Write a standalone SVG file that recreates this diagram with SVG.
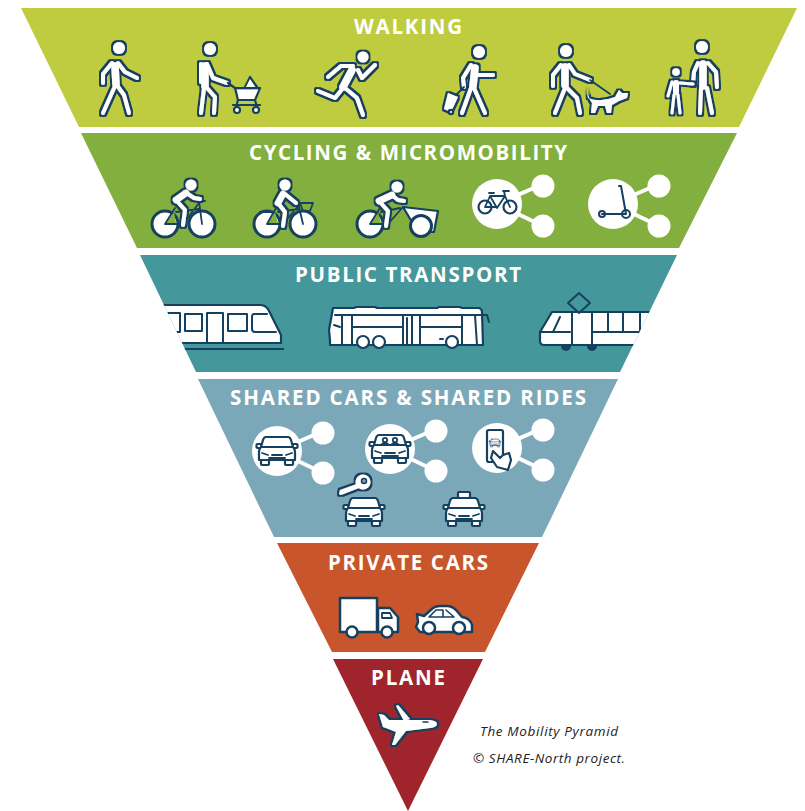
<svg xmlns="http://www.w3.org/2000/svg" width="805" height="811" viewBox="0 0 805 811">
<style>
.title{font-family:"Open Sans","Liberation Sans",sans-serif;font-weight:700;font-size:20.5px;fill:#fff;text-anchor:middle}
.cap{font-family:"Open Sans","Liberation Sans",sans-serif;font-style:italic;font-size:13.5px;fill:#222}
.fig{filter:url(#ol)}
.l{fill:none;stroke:#fff;stroke-width:4;stroke-linecap:round;stroke-linejoin:round}
.t{fill:none;stroke:#fff;stroke-width:7.5;stroke-linecap:round;stroke-linejoin:round}
.w{fill:#fff}
.n{fill:none;stroke:#16405f;stroke-width:1.8;stroke-linecap:round;stroke-linejoin:round}
.nw{fill:#fff;stroke:#16405f;stroke-width:2.2;stroke-linecap:round;stroke-linejoin:round}
.wh{fill:#fff;stroke:#16405f;stroke-width:3}
.nf{fill:#16405f}
.sh{stroke:#fff;stroke-width:4;fill:#fff}
</style>
<defs>
<filter id="ol" filterUnits="userSpaceOnUse" x="0" y="0" width="805" height="811">
<feMorphology in="SourceAlpha" operator="dilate" radius="1.5" result="d"/>
<feFlood flood-color="#16405f"/>
<feComposite in2="d" operator="in"/>
<feMerge><feMergeNode/><feMergeNode in="SourceGraphic"/></feMerge>
</filter>
<clipPath id="cp"><polygon points="140,255 677,255 620,372 196,372"/></clipPath>
<g id="share">
<line x1="0" y1="0" x2="46" y2="-20" class="sh"/><line x1="0" y1="0" x2="46" y2="22" class="sh"/>
<circle r="25" class="w"/><circle cx="46" cy="-18" r="11.5" class="w"/><circle cx="46" cy="22" r="11.5" class="w"/>
</g>
<g id="car">
<rect x="-16" y="7" width="8" height="7" rx="1" class="nw"/><rect x="8" y="7" width="8" height="7" rx="1" class="nw"/>
<rect x="-20.5" y="-7" width="5" height="4" rx="1" class="nw"/><rect x="15.5" y="-7" width="5" height="4" rx="1" class="nw"/>
<path class="nw" d="M-11,-14H11Q13,-14 14,-11L16,-4Q18,-2 18,1V9H-18V1Q-18,-2 -16,-4L-14,-11Q-13,-14 -11,-14Z"/>
<path class="n" d="M-16,-4H16M-15,2L-9,4M15,2L9,4M-8,7H8M-5,4H5"/>
</g>
</defs>
<rect width="805" height="811" fill="#fff"/>

<g id="walking">
<polygon points="21,8 797,8 739,127 79,127" fill="#bfcc40"/>
<text class="title" x="408" y="34" textLength="108">WALKING</text>
<g class="fig"><circle class="w" cx="119" cy="48" r="6"/><path class="t" d="M115,66L116,84"/><path class="l" d="M118,63L125,72L137,78M112,63L103,74V83M115,86L103,113M116,84L124,95L129,113"/></g>
<g class="fig"><circle class="w" cx="210" cy="49" r="6"/><path class="t" d="M205,66V86"/><path class="l" d="M207,64L213,78L227,83M201,64V82M204,88L201,113M207,88L215,97L214,113"/></g>
<g id="stroller"><path class="n" d="M228,83L235,88L238,100H255L260,88H235M245,87L250,77L257,87M238,100L236,107M255,100L257,107M233,105H260" fill="#fff" style="stroke-width:2.2"/><path class="w" d="M237,90H258L254,99H239Z"/><path class="w" d="M246,87L250,79L255,87Z"/><circle cx="237" cy="110" r="3" class="nw"/><circle cx="256" cy="110" r="3" class="nw"/></g>
<g class="fig"><circle class="w" cx="363" cy="57" r="5.5"/><path class="t" d="M352,70L343,87"/><path class="l" d="M353,66H341L328,77M358,70L362,78L375,65M343,88L335,98L318,91M345,88L357,98L363,115"/></g>
<g class="fig"><circle class="w" cx="479" cy="52" r="6"/><path class="t" d="M475,68L473,86"/><path class="l" d="M477,75H493M471,65L463,78L464,87M471,88L462,113M474,88L485,113"/></g>
<g class="fig"><path class="w" d="M448,93L458,97L451,112L444,109Z"/></g>
<line class="n" x1="464" y1="87" x2="456" y2="95"/>
<circle cx="451" cy="112" r="2.2" class="nw"/>
<g class="fig"><circle class="w" cx="566" cy="51" r="6"/><path class="t" d="M565,67V85"/><path class="l" d="M569,65L575,74L590,80M561,65L553,75V86M565,88L555,113M567,88L577,98L580,113"/></g>
<path class="n" d="M590,80L610,94"/>
<g class="fig"><path class="w" d="M588,98Q600,103 615,97L619,90L622,93H628L627,98L619,101L612,105L611,113H607L605,106H598L595,113H591L592,103Q588,98 587,88Z"/></g>
<g class="fig"><circle class="w" cx="702" cy="47" r="6"/><path class="t" d="M703,64V86"/><path class="l" d="M698,63L694,72L693,84M708,63L716,72L717,87M701,88L700,113M707,88L712,113"/></g>
<g class="fig"><circle class="w" cx="676" cy="72" r="3.8"/><path class="l" d="M676,83V92" style="stroke-width:6"/><path class="l" style="stroke-width:3" d="M680,83L693,84M672,82L668,96M674,95L672,113M678,95L680,113"/></g>
</g>

<g id="cycling">
<polygon points="81,133 737,133 679,248 137,248" fill="#82af3e"/>
<text class="title" x="408" y="160" textLength="318">CYCLING &amp; MICROMOBILITY</text>
<g id="bike1">
<circle cx="165" cy="224" r="13" class="wh"/><circle cx="202" cy="224" r="13" class="wh"/>
<path d="M166,223L174,212L176,223Z" fill="#82af3e"/>
<path class="n" d="M165,224L175,208M165,224H183L199,203M176,212L199,209M202,224L199,201L205,201"/>
<g class="fig"><circle class="w" cx="191" cy="185" r="5.5"/><path class="l" style="stroke-width:6.5" d="M186,193L176,200"/><path class="l" d="M176,200L185,210L183,225M188,194L194,198L200,199"/></g>
</g>
<g id="bike2">
<circle cx="267" cy="224" r="13" class="wh"/><circle cx="303" cy="224" r="13" class="wh"/>
<path d="M268,223L275,212L278,223Z" fill="#82af3e"/>
<path class="n" d="M267,224L276,208M267,224H283L299,205M278,212L299,209M303,224L298,203M260,212H273"/>
<path class="n" d="M300,203H313L310,211H303Z"/>
<g class="fig"><circle class="w" cx="285" cy="185" r="5.5"/><path class="l" style="stroke-width:6.5" d="M283,194L278,203"/><path class="l" d="M278,203L285,212L283,226M285,194L296,203"/></g>
</g>
<g id="bike3">
<circle cx="370" cy="224" r="13" class="wh"/>
<path d="M371,223L378,212L381,223Z" fill="#82af3e"/>
<path class="nw" d="M403,207L438,211L434,232H418Z"/>
<circle cx="421" cy="226" r="10.5" class="wh"/>
<path class="n" d="M370,224L380,208M370,224H388L403,207M381,212L400,208"/>
<g class="fig"><circle class="w" cx="397" cy="187" r="5.5"/><path class="l" style="stroke-width:6.5" d="M392,195L379,201"/><path class="l" d="M379,201L388,211L386,226M393,196L398,200L404,201"/></g>
</g>
<g id="bikeshare"><use href="#share" x="497" y="204"/>
<circle cx="485" cy="207" r="6.5" fill="none" stroke="#16405f" stroke-width="2.2"/><circle cx="510" cy="207" r="6.5" fill="none" stroke="#16405f" stroke-width="2.2"/>
<path class="n" d="M485,207L490,196H505L510,207M490,196L497,208L505,196M485,207H497M489,193H494M504,191L505,196M503,191H509"/></g>
<g id="scootershare"><use href="#share" x="613" y="204"/>
<circle cx="602" cy="214" r="3" fill="none" stroke="#16405f" stroke-width="2"/><circle cx="626" cy="214" r="4" fill="none" stroke="#16405f" stroke-width="2"/>
<path class="n" d="M602,214H626L621,186H619" style="stroke-width:2"/></g>
</g>

<g id="public">
<polygon points="140,255 677,255 620,372 196,372" fill="#44979a"/>
<text class="title" x="408" y="282" textLength="226">PUBLIC TRANSPORT</text>
<g clip-path="url(#cp)">
<g id="train">
<path class="nw" d="M150,305H260Q265,305 268,309L281,335V343H150Z"/>
<path class="n" d="M168,313H180V332H168M185,314H202V331H185ZM207,343V313H223V343M228,314H247V331H228ZM267,314H254Q252,314 252,317V329Q252,332 255,332H276" style="stroke-width:2"/>
<line x1="183" y1="349" x2="284" y2="349" stroke="#16405f" stroke-width="2.2"/>
</g>
<g id="tram">
<path class="nw" d="M552,312H670V345H544Q540,345 540,341V332Z"/>
<path class="n" d="M560,317L553,332H540M553,332H570M572,312V345M592,312V345M592,332H660M608,312V332M623,312V332M640,312V332" style="stroke-width:2"/>
<path class="n" d="M579,293L590,303L579,313L568,303Z" style="stroke-width:2"/>
<path class="nf" d="M561,346A5,5 0 0 0 571,346ZM587,346A5,5 0 0 0 597,346Z"/>
</g>
</g>
<g id="bus">
<path class="nw" d="M333,308H354L356,307H375L377,308H437L439,307H460L462,308H479Q482,309 482,312L483,345H330V340L329,330Z"/>
<path class="n" d="M335,315H478L487,315L489,322M342,315V345M352,315V345M403,315V345M407,318V345M412,315V345M420,315V345M352,327H403M420,327H462M462,315V345M475,315L477,345M334,325L340,327M440,339H443" style="stroke-width:2"/>
<circle cx="363" cy="342" r="6" class="nw"/><circle cx="379" cy="342" r="6" class="nw"/><circle cx="452" cy="342" r="6" class="nw"/>
</g>
</g>

<g id="shared">
<polygon points="198,379 618,379 542,537 274,537" fill="#7ba8b8"/>
<text class="title" x="408" y="405" textLength="356">SHARED CARS &amp; SHARED RIDES</text>
<g id="carshare1"><use href="#share" x="277" y="451"/><use href="#car" x="277" y="451"/></g>
<g id="carshare2"><use href="#share" x="390" y="449"/><use href="#car" x="390" y="449"/>
<circle cx="385" cy="440" r="2.2" class="n"/><circle cx="395" cy="440" r="2.2" class="n"/><path class="n" d="M381,445Q385,441 389,445M391,445Q395,441 399,445"/></g>
<g id="ridehail"><use href="#share" x="497" y="448"/>
<rect x="487" y="430" width="16" height="32" rx="2" class="nw"/>
<use href="#car" transform="translate(495 443) scale(.28)"/>
<path class="nw" d="M493,451L500,458L503,455L509,453L511,460L508,470L497,467L491,458Z"/></g>
<g id="key">
<g class="fig"><circle class="w" cx="363" cy="482" r="7.5"/><path class="w" d="M357,484L340,490L339,494L341,495L359,488Z"/></g>
<circle cx="364" cy="481" r="2.5" class="nw" style="stroke-width:1.5;fill:#7ba8b8"/>
<use href="#car" x="364" y="512"/></g>
<g id="taxi">
<rect x="458" y="492" width="12" height="6" rx="1" class="nw"/>
<use href="#car" x="464" y="512"/></g>
</g>

<g id="private">
<polygon points="277,543 539,543 485,652 332,652" fill="#c8552b"/>
<text class="title" x="408" y="570" textLength="160">PRIVATE CARS</text>
<g id="truck">
<path class="nw" d="M378,608H390L398,617V632H378Z" style="stroke-width:2.5"/>
<rect x="340" y="598" width="37" height="34" class="nw" style="stroke-width:2.5"/>
<path class="n" d="M382,613H390L392,618H382Z"/>
<circle cx="352" cy="632" r="5.5" class="nw" style="stroke-width:2.5"/><circle cx="387" cy="632" r="5.5" class="nw" style="stroke-width:2.5"/>
</g>
<g id="sedan">
<path class="nw" d="M417,614L424,616L433,608Q436,606 440,606H447Q452,606 456,610L462,617Q470,618 472,625V632H420L416,627L418,622Z" style="stroke-width:2.5"/>
<path class="n" d="M429,617L436,610H443V617M446,610L454,617H429" style="stroke-width:1.6"/>
<circle cx="429" cy="628" r="6" class="nw" style="stroke-width:2.5"/><circle cx="459" cy="628" r="6" class="nw" style="stroke-width:2.5"/>
</g>
</g>

<g id="plane">
<polygon points="333,659 483,659 408,811" fill="#a0242b"/>
<text class="title" x="408" y="685" textLength="74">PLANE</text>
<g class="fig">
<path class="w" d="M379,714L384,715L389,720H430Q437,721 437,724Q437,727 430,728L406,731L395,745L392,745L396,732L386,728L383,727Z"/>
<path class="w" d="M396,706L398,705L410,719L404,721Z"/>
</g>
<path class="n" d="M423,722H428" style="stroke-width:1.5"/>
</g>

<g id="caption">
<text class="cap" x="480" y="736" textLength="138">The Mobility Pyramid</text>
<text class="cap" x="473" y="763" textLength="152">© SHARE-North project.</text>
</g>
</svg>
